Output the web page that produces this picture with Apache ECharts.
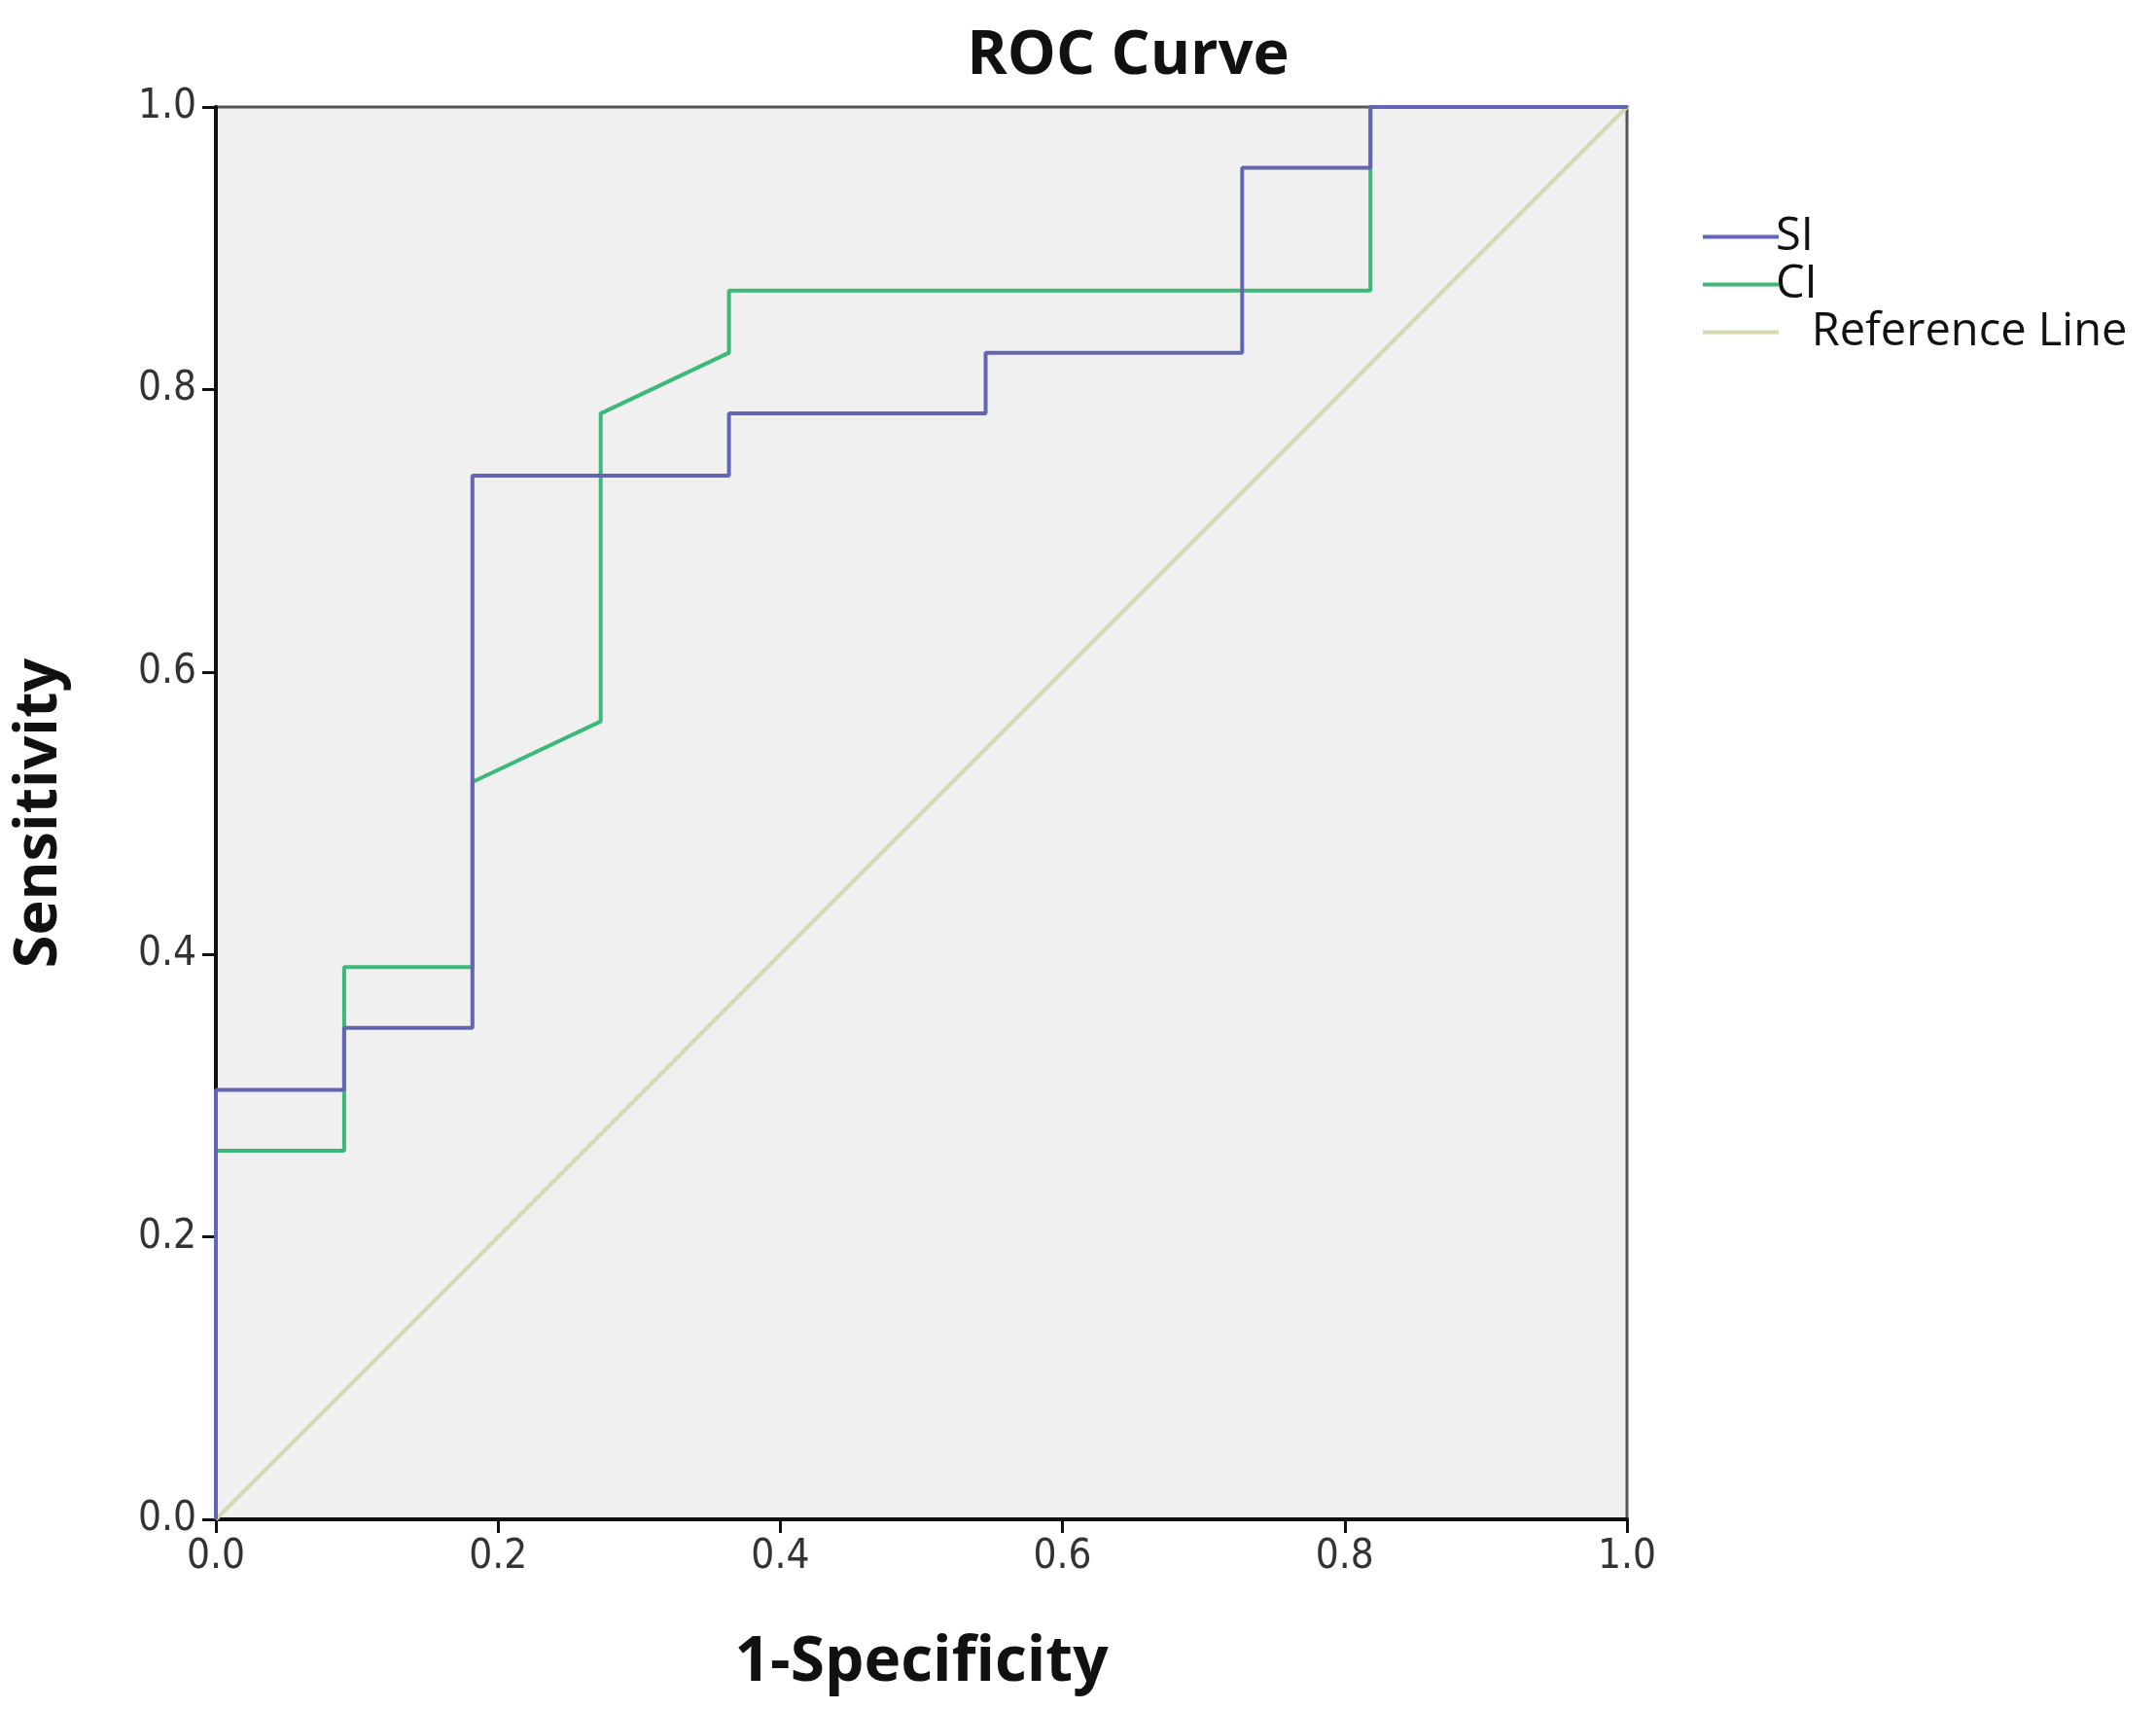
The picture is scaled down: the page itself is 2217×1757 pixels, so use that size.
<!DOCTYPE html>
<html>
<head>
	<meta charset="utf-8">
	<title>ROC Curve</title>
	<script src="https://cdn.jsdelivr.net/npm/echarts@6/dist/echarts.min.js"></script>
	<style>
		html, body { margin: 0; padding: 0; background: #fff; }
		#main { width: 2217px; height: 1757px; }
	</style>
</head>
<body>
<div id="main"></div>
<script type="text/javascript">
// 数据: 1-Specificity / Sensitivity
var siX = [0, 0, 0.0909, 0.0909, 0.1818, 0.1818, 0.3636, 0.3636, 0.5455, 0.5455, 0.7273, 0.7273, 0.8182, 0.8182, 1];
var siY = [0, 0.304, 0.304, 0.348, 0.348, 0.739, 0.739, 0.783, 0.783, 0.826, 0.826, 0.957, 0.957, 1, 1];
var ciX = [0, 0, 0.0909, 0.0909, 0.1818, 0.1818, 0.2727, 0.2727, 0.3636, 0.3636, 0.8182, 0.8182, 1];
var ciY = [0, 0.261, 0.261, 0.391, 0.391, 0.522, 0.565, 0.783, 0.826, 0.870, 0.870, 1, 1];
var refX = [0, 1];
var refY = [0, 1];
var seriesNames = ['SI', 'CI', 'Reference Line'];

function pairs(xs, ys) {
	var out = [];
	for (var i = 0; i < xs.length; i++) out.push([xs[i], ys[i]]);
	return out;
}

var tickFont = '"Liberation Sans Narrow", "DejaVu Sans Condensed", sans-serif';
var boldFont = '"Open Sans", "Noto Sans", sans-serif';

var myChart = echarts.init(document.getElementById('main'));

var option = {
	animation: false,
	title: {
		text: 'ROC Curve',
		left: 1155,
		textAlign: 'center',
		top: 22,
		textStyle: { fontFamily: boldFont, fontWeight: 'bold', fontSize: 63, color: '#111' }
	},
	legend: {
		orient: 'vertical',
		left: 1746,
		top: 215,
		itemWidth: 78,
		itemHeight: 4,
		itemGap: 2,
		icon: 'rect',
		data: seriesNames,
		formatter: function (name) {
			// SPSS 图例里参考线的文字离线段稍远
			return name === 'Reference Line' ? '   ' + name : name;
		},
		textStyle: { fontFamily: boldFont, fontSize: 47, color: '#111', padding: [0, 0, 0, -8] }
	},
	grid: {
		left: 222,
		top: 110,
		width: 1451,
		height: 1452,
		show: true,
		backgroundColor: '#f0f0f0',
		borderColor: '#555',
		borderWidth: 3
	},
	xAxis: {
		type: 'value',
		min: 0,
		max: 1,
		interval: 0.2,
		name: '1-Specificity',
		nameLocation: 'middle',
		nameGap: 116,
		nameTextStyle: { fontFamily: boldFont, fontWeight: 'bold', fontSize: 64, color: '#111' },
		axisLine: { show: true, lineStyle: { color: '#111', width: 4 } },
		axisTick: { show: true, length: 14, lineStyle: { color: '#111', width: 3 } },
		splitLine: { show: false },
		axisLabel: {
			fontFamily: tickFont, fontSize: 42, color: '#333', margin: 18,
			formatter: function (v) { return v.toFixed(1); }
		}
	},
	yAxis: {
		type: 'value',
		min: 0,
		max: 1,
		interval: 0.2,
		name: 'Sensitivity',
		nameLocation: 'middle',
		nameGap: 151,
		nameTextStyle: { fontFamily: boldFont, fontWeight: 'bold', fontSize: 61, color: '#111' },
		axisLine: { show: true, lineStyle: { color: '#111', width: 4 } },
		axisTick: { show: true, length: 14, lineStyle: { color: '#111', width: 3 } },
		splitLine: { show: false },
		axisLabel: {
			fontFamily: tickFont, fontSize: 42, color: '#333', margin: 20,
			formatter: function (v) { return v.toFixed(1); }
		}
	},
	series: [
		{
			name: 'Reference Line',
			type: 'line',
			data: pairs(refX, refY),
			showSymbol: false,
			z: 1,
			color: '#d8d8b4',
			lineStyle: { color: '#d8d8b4', width: 4 }
		},
		{
			name: 'SI',
			type: 'line',
			data: pairs(siX, siY),
			showSymbol: false,
			z: 3,
			color: '#6464b4',
			lineStyle: { color: '#6464b4', width: 4 }
		},
		{
			name: 'CI',
			type: 'line',
			data: pairs(ciX, ciY),
			showSymbol: false,
			z: 2,
			color: '#3cb878',
			lineStyle: { color: '#3cb878', width: 4 }
		}
	]
};

myChart.setOption(option);
</script>
</body>
</html>
